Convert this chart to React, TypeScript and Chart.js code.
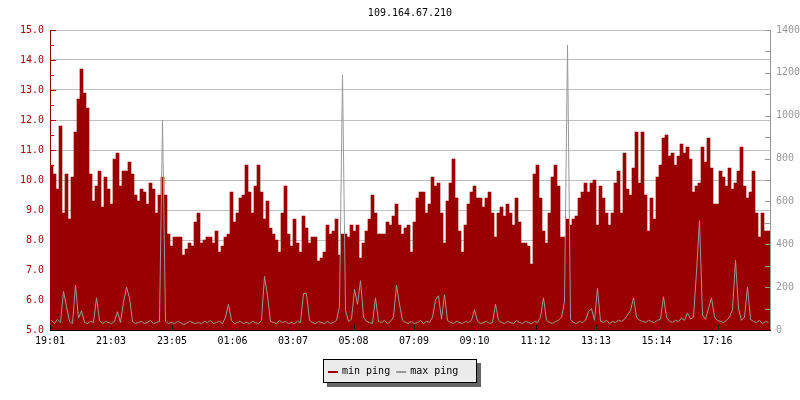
import React, { useEffect, useRef } from 'react';
import { Chart, registerables } from 'chart.js';

Chart.register(...registerables);

const TITLE = '109.164.67.210';
const START_TIME = '19:01';
const STEP_MIN = 6; // minutes per sample
const SPAN_MIN = 1440;
const TICK_LABELS = ['19:01', '21:03', '23:05', '01:06', '03:07', '05:08', '07:09', '09:10', '11:12', '13:13', '15:14', '17:16'];
const SERIES_NAMES = ['min ping', 'max ping'];
const LEFT_MIN = 5;
const LEFT_MAX = 15;
const RIGHT_MIN = 0;
const RIGHT_MAX = 1400;

// min ping (ms, left axis), one value per 6 minutes
const MIN_PING = [
  10.5, 10.2, 9.7, 11.8, 8.9, 10.2, 8.7, 10.1, 11.6, 12.7,
  13.7, 12.9, 12.4, 10.2, 9.3, 9.8, 10.3, 9.1, 10.1, 9.7,
  9.2, 10.7, 10.9, 9.8, 10.3, 10.3, 10.6, 10.2, 9.5, 9.3,
  9.7, 9.6, 9.2, 9.9, 9.7, 8.9, 9.5, 10.1, 9.5, 8.2,
  7.8, 8.1, 8.1, 8.1, 7.5, 7.7, 7.9, 7.8, 8.6, 8.9,
  7.9, 8.0, 8.1, 8.1, 7.9, 8.3, 7.6, 7.8, 8.1, 8.2,
  9.6, 8.6, 8.9, 9.4, 9.5, 10.5, 9.6, 8.9, 9.8, 10.5,
  9.6, 8.7, 9.3, 8.4, 8.2, 8.0, 7.6, 8.9, 9.8, 8.2,
  7.8, 8.7, 7.9, 7.6, 8.8, 8.4, 7.9, 8.1, 8.1, 7.3,
  7.4, 7.6, 8.5, 8.2, 8.3, 8.7, 7.5, 8.2, 8.2, 8.1,
  8.5, 8.3, 8.5, 7.4, 7.9, 8.3, 8.7, 9.5, 8.9, 8.2,
  8.2, 8.2, 8.6, 8.5, 8.8, 9.2, 8.5, 8.2, 8.4, 8.5,
  7.6, 8.6, 9.4, 9.6, 9.6, 8.9, 9.2, 10.1, 9.8, 9.9,
  8.9, 7.9, 9.3, 9.9, 10.7, 9.4, 8.3, 7.6, 8.5, 9.2,
  9.6, 9.8, 9.4, 9.4, 9.1, 9.4, 9.6, 8.9, 8.1, 8.9,
  9.1, 8.8, 9.2, 8.9, 8.5, 9.4, 8.6, 7.9, 7.9, 7.8,
  7.2, 10.2, 10.5, 9.4, 8.3, 7.9, 8.9, 10.1, 10.5, 9.8,
  8.1, 8.1, 8.7, 8.5, 8.7, 8.8, 9.4, 9.6, 9.9, 9.6,
  9.9, 10.0, 8.5, 9.8, 9.4, 8.9, 8.5, 8.9, 9.9, 10.3,
  8.9, 10.9, 9.7, 9.5, 10.4, 11.6, 9.9, 11.6, 9.5, 8.3,
  9.4, 8.7, 10.1, 10.5, 11.4, 11.5, 10.8, 10.9, 10.5, 10.8,
  11.2, 10.9, 11.1, 10.7, 9.6, 9.8, 9.9, 11.1, 10.6, 11.4,
  10.4, 9.2, 9.2, 10.3, 10.1, 9.8, 10.4, 9.7, 9.9, 10.3,
  11.1, 9.8, 9.4, 9.6, 10.3, 8.9, 8.1, 8.9, 8.3, 8.3,
];

// max ping (ms, right axis), one value per 6 minutes
const MAX_PING = [
  45, 30, 50, 35, 180, 110, 40, 30, 210, 55,
  90, 35, 30, 40, 35, 150, 45, 30, 40, 35,
  30, 40, 85, 35, 130, 200, 150, 40, 30, 35,
  40, 30, 35, 45, 30, 35, 40, 980, 40, 30,
  35, 30, 40, 35, 25, 30, 40, 35, 30, 35,
  30, 40, 35, 45, 30, 35, 40, 30, 60, 120,
  45, 30, 35, 40, 30, 35, 30, 40, 35, 30,
  45, 250, 160, 40, 35, 30, 45, 35, 40, 30,
  35, 30, 40, 35, 170, 170, 45, 35, 30, 40,
  35, 30, 40, 30, 35, 45, 110, 1190, 90, 40,
  50, 190, 120, 230, 60, 40, 35, 30, 150, 40,
  35, 45, 30, 40, 60, 210, 120, 45, 35, 30,
  40, 30, 35, 45, 30, 40, 35, 60, 140, 160,
  50, 165, 45, 35, 30, 40, 35, 30, 40, 35,
  45, 95, 40, 30, 35, 40, 30, 35, 120, 45,
  35, 30, 40, 35, 30, 45, 35, 30, 40, 35,
  30, 40, 35, 60, 150, 45, 35, 30, 40, 45,
  60, 130, 1330, 50, 35, 30, 40, 35, 45, 85,
  100, 45, 195, 40, 35, 45, 30, 40, 35, 45,
  40, 50, 70, 90, 150, 60, 45, 40, 35, 45,
  40, 35, 45, 50, 155, 60, 40, 35, 45, 40,
  55, 45, 80, 50, 60, 270, 510, 70, 50, 100,
  150, 60, 45, 40, 35, 45, 60, 95, 325, 100,
  45, 60, 200, 50, 40, 35, 45, 30, 40, 35,
];

const RED = '#990000';
const GRAY = '#999999';
const GRID = '#c0c0c0';
const FONT_FAMILY = "'DejaVu Sans Mono', monospace";

const toMin = (s: string) => {
  const [h, m] = s.split(':').map(Number);
  return h * 60 + m;
};
const TICK_VALUES = TICK_LABELS.map((l) => (toMin(l) - toMin(START_TIME) + 1440) % 1440);

const framePlugin = {
  id: 'frame',
  afterDatasetsDraw(chart: any) {
    const { ctx, chartArea: a, scales } = chart;
    const ys = scales.y;
    const y2 = scales.y2;
    const xs = scales.x;
    ctx.save();
    ctx.lineWidth = 1;
    // left axis
    ctx.strokeStyle = RED;
    ctx.beginPath();
    ctx.moveTo(a.left + 0.5, a.top);
    ctx.lineTo(a.left + 0.5, a.bottom + 1);
    ys.ticks.forEach((t: any) => {
      const py = Math.round(ys.getPixelForValue(t.value)) + 0.5;
      const len = Number.isInteger(t.value) ? 6 : 4;
      ctx.moveTo(a.left, py);
      ctx.lineTo(a.left + len, py);
    });
    ctx.stroke();
    // right axis
    ctx.strokeStyle = GRAY;
    ctx.beginPath();
    ctx.moveTo(a.right + 0.5, a.top);
    ctx.lineTo(a.right + 0.5, a.bottom + 1);
    y2.ticks.forEach((t: any) => {
      const py = Math.round(y2.getPixelForValue(t.value)) + 0.5;
      ctx.moveTo(a.right - 5, py);
      ctx.lineTo(a.right, py);
    });
    ctx.stroke();
    // bottom axis
    ctx.strokeStyle = '#000000';
    ctx.beginPath();
    ctx.moveTo(a.left, a.bottom + 0.5);
    ctx.lineTo(a.right + 1, a.bottom + 0.5);
    xs.ticks.forEach((t: any) => {
      const px = Math.round(xs.getPixelForValue(t.value)) + 0.5;
      ctx.moveTo(px, a.bottom);
      ctx.lineTo(px, a.bottom - 5);
    });
    ctx.stroke();
    ctx.restore();
  },
  afterDraw(chart: any) {
    const { ctx, chartArea: a } = chart;
    ctx.save();
    ctx.font = `10px ${FONT_FAMILY}`;
    // title
    ctx.fillStyle = '#000000';
    ctx.textAlign = 'center';
    ctx.textBaseline = 'middle';
    ctx.fillText(TITLE, (a.left + a.right) / 2, a.top - 16.5);

    // legend
    const colors = [RED, GRAY];
    const sw = 10, gapA = 4, gapB = 6, padL = 5, padR = 19, h = 24;
    const widths = SERIES_NAMES.map((n) => ctx.measureText(n).width);
    let w = padL + padR + gapB * (SERIES_NAMES.length - 1);
    widths.forEach((tw) => (w += sw + gapA + tw));
    w = Math.round(w);
    const x0 = Math.floor(chart.width / 2 - w / 2);
    const y0 = a.bottom + 29;
    ctx.fillStyle = '#666666';
    ctx.fillRect(x0 + 4, y0 + 4, w, h);
    ctx.fillStyle = '#ebebeb';
    ctx.fillRect(x0, y0, w, h);
    ctx.strokeStyle = '#000000';
    ctx.lineWidth = 1;
    ctx.strokeRect(x0 + 0.5, y0 + 0.5, w - 1, h - 1);
    let cx = x0 + padL;
    ctx.textAlign = 'left';
    ctx.textBaseline = 'middle';
    SERIES_NAMES.forEach((name, i) => {
      ctx.strokeStyle = colors[i];
      ctx.lineWidth = 2;
      ctx.beginPath();
      ctx.moveTo(cx, y0 + 13);
      ctx.lineTo(cx + sw, y0 + 13);
      ctx.stroke();
      cx += sw + gapA;
      ctx.fillStyle = '#000000';
      ctx.fillText(name, cx, y0 + 12);
      cx += widths[i] + gapB;
    });
    ctx.restore();
  },
};

export default function App() {
  const ref = useRef<HTMLCanvasElement | null>(null);
  useEffect(() => {
    if (!ref.current) return;
    const font = { family: FONT_FAMILY, size: 10 };
    const chart = new Chart(ref.current, {
      type: 'bar',
      data: {
        datasets: [
          {
            type: 'bar',
            label: SERIES_NAMES[0],
            data: MIN_PING.map((v, i) => ({ x: i * STEP_MIN + STEP_MIN / 2, y: v })),
            backgroundColor: RED,
            borderWidth: 0,
            barPercentage: 1,
            categoryPercentage: 1,
            yAxisID: 'y',
            order: 2,
          } as any,
          {
            type: 'line',
            label: SERIES_NAMES[1],
            data: MAX_PING.map((v, i) => ({ x: i * STEP_MIN + STEP_MIN / 2, y: v })),
            borderColor: GRAY,
            borderWidth: 1,
            pointRadius: 0,
            tension: 0,
            fill: false,
            yAxisID: 'y2',
            order: 1,
          } as any,
        ],
      },
      options: {
        animation: false,
        responsive: false,
        devicePixelRatio: 1,
        layout: { padding: { top: 30, left: 0, right: 0, bottom: 0 } },
        plugins: {
          legend: { display: false },
          title: { display: false },
          tooltip: { enabled: false },
        },
        scales: {
          x: {
            type: 'linear',
            min: 0,
            max: SPAN_MIN,
            offset: false,
            afterBuildTicks: (s: any) => {
              s.ticks = TICK_VALUES.map((v) => ({ value: v }));
            },
            afterFit: (s: any) => {
              s.height = 70;
            },
            grid: { display: false, drawTicks: false },
            border: { display: false },
            ticks: {
              autoSkip: false,
              maxRotation: 0,
              padding: 5,
              color: '#000000',
              font,
              callback: (v: any) => {
                const idx = TICK_VALUES.indexOf(Number(v));
                return idx >= 0 ? TICK_LABELS[idx] : '';
              },
            },
          },
          y: {
            type: 'linear',
            position: 'left',
            min: LEFT_MIN,
            max: LEFT_MAX,
            afterFit: (s: any) => {
              s.width = 50;
            },
            grid: {
              drawTicks: false,
              color: (c: any) => (c.tick && Number.isInteger(c.tick.value) ? GRID : 'rgba(0,0,0,0)'),
            },
            border: { display: false },
            ticks: {
              stepSize: 0.5,
              autoSkip: false,
              padding: 6,
              color: RED,
              font,
              callback: (v: any) => (Number.isInteger(Number(v)) ? Number(v).toFixed(1) : ''),
            },
          },
          y2: {
            type: 'linear',
            position: 'right',
            min: RIGHT_MIN,
            max: RIGHT_MAX,
            afterFit: (s: any) => {
              s.width = 30;
            },
            grid: { drawOnChartArea: false, drawTicks: false },
            border: { display: false },
            ticks: {
              stepSize: 100,
              autoSkip: false,
              padding: 6,
              color: GRAY,
              font,
              callback: (v: any) => (Number(v) % 200 === 0 ? String(v) : ''),
            },
          },
        },
      } as any,
      plugins: [framePlugin],
    });
    return () => chart.destroy();
  }, []);
  return (
    <div style={{ position: 'absolute', left: 0, top: 0, width: 800, height: 400, background: '#ffffff' }}>
      <canvas ref={ref} width={800} height={400} style={{ display: 'block' }} />
    </div>
  );
}
